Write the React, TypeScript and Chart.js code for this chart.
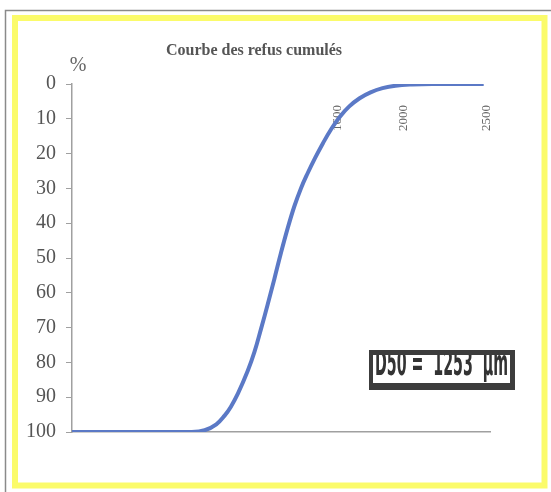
import React, { useEffect, useRef } from "react";
import { Chart, registerables } from "chart.js";

Chart.register(...registerables);

// Sieve size (µm) vs cumulative retained (%)
const sizes = [0, 400, 720, 800, 870, 920, 957, 1000, 1059, 1100, 1140, 1180, 1220, 1260, 1300, 1340, 1380, 1417, 1465, 1513, 1565, 1615, 1670, 1734, 1800, 1872, 1950, 2050, 2171, 2482];
const refus = [100, 100, 100, 99.5, 97.8, 95.3, 92.8, 89, 82.5, 77, 70.3, 63.3, 56, 48.5, 41.5, 35.2, 30, 26, 21.3, 17, 12.8, 9.4, 6.5, 4.1, 2.4, 1.2, 0.5, 0.15, 0, 0];
const xTickLabels = [1600, 2000, 2500];
const yTicks = [0, 10, 20, 30, 40, 50, 60, 70, 80, 90, 100];
const titleText = "Courbe des refus cumulés";
const yUnit = "%";
const d50Text = "D50 =  1253  µm";

const framePlugin = {
  id: "frame",
  beforeDraw(chart: any) {
    const ctx = chart.ctx;
    ctx.save();
    ctx.fillStyle = "#ffffff";
    ctx.fillRect(0, 0, chart.width, chart.height);
    ctx.strokeStyle = "#8a8a8a";
    ctx.lineWidth = 1.5;
    ctx.beginPath();
    ctx.moveTo(5.5, 492);
    ctx.lineTo(5.5, 10.5);
    ctx.lineTo(551, 10.5);
    ctx.stroke();
    ctx.strokeStyle = "#fbfb6a";
    ctx.lineWidth = 6;
    ctx.strokeRect(15, 18, 529.5, 467.5);
    ctx.fillStyle = "#555555";
    ctx.font = "bold 16px 'Liberation Serif', 'Times New Roman', serif";
    ctx.textAlign = "center";
    ctx.textBaseline = "alphabetic";
    ctx.fillText(titleText, 254, 55);
    ctx.font = "20px 'Liberation Serif', 'Times New Roman', serif";
    ctx.fillStyle = "#666666";
    ctx.fillText(yUnit, 78, 71);
    ctx.restore();
  },
  beforeDatasetsDraw(chart: any) {
    const ctx = chart.ctx;
    const xs = chart.scales.x;
    ctx.save();
    ctx.fillStyle = "#666666";
    ctx.font = "13px 'Liberation Serif', 'Times New Roman', serif";
    ctx.textAlign = "center";
    ctx.textBaseline = "middle";
    for (const v of xTickLabels) {
      const px = xs.getPixelForValue(v);
      ctx.save();
      ctx.translate(px, 118);
      ctx.rotate(-Math.PI / 2);
      ctx.fillText(String(v), 0, 0);
      ctx.restore();
    }
    ctx.restore();
  },
  afterDatasetsDraw(chart: any) {
    const ctx = chart.ctx;
    ctx.save();
    const bx = 369, by = 350, bw = 146, bh = 40;
    ctx.fillStyle = "#3c3c3c";
    ctx.fillRect(bx, by, bw, bh);
    ctx.fillStyle = "#ffffff";
    const ix = bx + 4, iy = by + 5, iw = bw - 9, ih = bh - 12;
    ctx.fillRect(ix, iy, iw, ih);
    ctx.beginPath();
    ctx.rect(ix, iy, iw, ih);
    ctx.clip();
    ctx.fillStyle = "#333333";
    ctx.font = "bold 24px 'Liberation Sans Narrow', 'DejaVu Sans Condensed', Arial, sans-serif";
    ctx.textAlign = "left";
    ctx.textBaseline = "alphabetic";
    const w = ctx.measureText(d50Text).width;
    ctx.save();
    ctx.translate(ix + 2, by + 25);
    ctx.scale(133 / w, 1.45);
    ctx.fillText(d50Text, 0, 0);
    ctx.restore();
    ctx.restore();
  },
};

export default function App() {
  const ref = useRef<HTMLCanvasElement | null>(null);
  useEffect(() => {
    if (!ref.current) return;
    const chart = new Chart(ref.current, {
      type: "line",
      data: {
        datasets: [
          {
            data: sizes.map((s, i) => ({ x: s, y: refus[i] })),
            borderColor: "#5b79c6",
            borderWidth: 4,
            pointRadius: 0,
            tension: 0.4,
            fill: false,
          },
        ],
      },
      options: {
        animation: false,
        responsive: false,
        layout: { padding: { left: 0, top: 84, right: 61, bottom: 60 } },
        plugins: { legend: { display: false }, tooltip: { enabled: false }, title: { display: false } },
        scales: {
          x: {
            type: "linear",
            position: "bottom",
            min: 0,
            max: 2520,
            afterFit: (s: any) => {
              s.height = 0;
            },
            ticks: { display: false },
            grid: { display: false },
            border: { display: true, color: "#a0a0a0", width: 1.5 },
          },
          y: {
            type: "linear",
            reverse: true,
            min: 0,
            max: 100,
            afterBuildTicks: (s: any) => {
              s.ticks = yTicks.map((v) => ({ value: v }));
            },
            afterFit: (s: any) => {
              s.width = 72;
            },
            ticks: {
              color: "#555555",
              padding: 10,
              font: { family: "'Liberation Serif', 'Times New Roman', serif", size: 20 },
            },
            grid: { drawOnChartArea: false, drawTicks: true, tickLength: 6, color: "#a0a0a0" },
            border: { display: true, color: "#a0a0a0", width: 1.5 },
          },
        },
      },
      plugins: [framePlugin],
    } as any);
    return () => chart.destroy();
  }, []);
  return (
    <div style={{ position: "absolute", left: 0, top: 0, width: 551, height: 492 }}>
      <canvas ref={ref} width={551} height={492} style={{ display: "block" }} />
    </div>
  );
}
